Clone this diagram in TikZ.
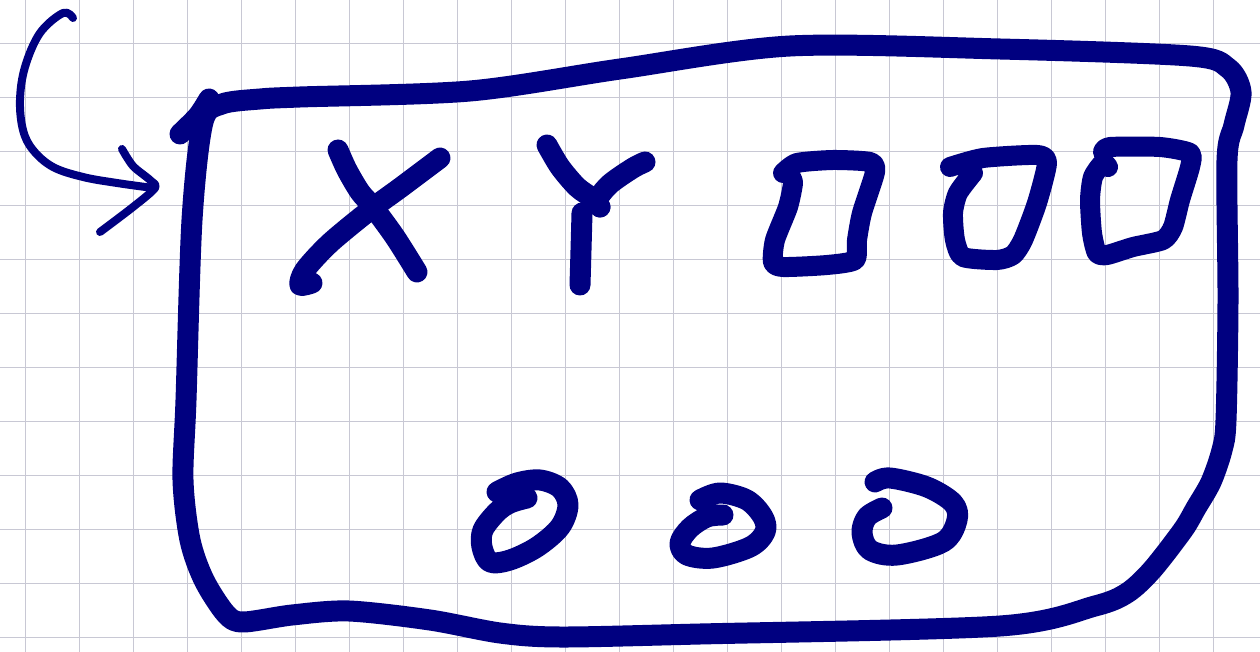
\documentclass[tikz,border=0pt]{standalone}
\definecolor{ink}{RGB}{0,0,128}
\definecolor{gridc}{RGB}{200,200,212}
\begin{document}
\begin{tikzpicture}[x=1pt,y=-1pt,
  pen/.style={draw=ink,line width=#1,line cap=round,line join=round},
  pen/.default=21pt]
\useasboundingbox (0,0) rectangle (1260,652);
\fill[white] (0,0) rectangle (1260,652);
% grid
\foreach \i in {0,...,23} {\draw[gridc,line width=1.4pt] ({25.5+54*\i},0) -- ({25.5+54*\i},652);}
\foreach \j in {0,...,11} {\draw[gridc,line width=1.4pt] (0,{43.3+54*\j}) -- (1260,{43.3+54*\j});}
% arrow
\draw[pen=8pt] plot[smooth,tension=0.6] coordinates {(73,18) (63,13) (40,33) (25,67) (20,100) (23,130) (33,150) (53,167) (83,177) (117,183) (153,188)};
\draw[pen=8pt] plot[smooth,tension=0.5] coordinates {(122,149) (133,166) (150,180) (155,188) (133,207) (100,232)};
% box
\draw[pen] plot[smooth,tension=0.5] coordinates {(180,134) (198,116) (209,99)};
\draw[pen] plot[smooth cycle,tension=0.5] coordinates {(203,122) (222,104) (260,99) (300,97) (470,91) (620,69) (790,46) (1000,49) (1190,56) (1228,68) (1241,92) (1234,125) (1227,160) (1228,300) (1226,420) (1222,450) (1211,482) (1196,508) (1183,530) (1152,570) (1127,593) (1095,606) (1000,626) (700,634) (560,637) (500,633) (430,620) (349,611) (292,615) (243,622) (226,614) (204,580) (190,540) (183,480) (186,400) (192,220)};
% X
\draw[pen] plot[smooth,tension=0.5] coordinates {(338,150) (347,170) (360,192) (373,207) (395,237) (417,272)};
\draw[pen] plot[smooth,tension=0.5] coordinates {(440,158) (400,188) (370,210) (330,243) (305,270) (300,285) (312,283)};
% Y
\draw[pen] plot[smooth,tension=0.5] coordinates {(547,145) (560,167) (577,187) (592,198) (600,207)};
\draw[pen] plot[smooth,tension=0.5] coordinates {(645,162) (633,168) (610,184) (597,200) (600,207)};
\draw[pen] plot[smooth,tension=0.5] coordinates {(582,213) (581,250) (580,285)};
% squares
\draw[pen=20pt] plot[smooth,tension=0.4] coordinates {(783,173) (797,163) (833,160) (870,162) (875,172) (862,213) (857,240) (855,260) (827,265) (783,267) (773,262) (775,240) (788,207) (793,183) (790,176)};
\draw[pen=20pt] plot[smooth,tension=0.4] coordinates {(950,167) (983,158) (1037,155) (1047,163) (1037,203) (1023,240) (1013,255) (997,260) (963,257) (955,240) (953,213) (958,193) (973,173)};
\draw[pen=20pt] plot[smooth,tension=0.4] coordinates {(1103,152) (1110,147) (1160,147) (1190,153) (1190,167) (1180,200) (1173,227) (1163,240) (1133,247) (1107,255) (1097,253) (1092,233) (1090,200) (1093,177) (1103,163) (1108,167)};
% ovals
\draw[pen=21pt] plot[smooth,tension=0.55] coordinates {(497,492) (517,483) (540,480) (560,488) (568,505) (560,527) (537,547) (510,560) (490,562) (482,547) (483,530) (497,512) (510,503) (527,498)};
\draw[pen=21pt] plot[smooth,tension=0.55] coordinates {(700,500) (720,493) (747,500) (763,517) (765,532) (750,547) (713,558) (687,555) (680,543) (690,528) (707,517) (723,515)};
\draw[pen=21pt] plot[smooth,tension=0.55] coordinates {(875,482) (890,478) (927,487) (953,503) (957,520) (943,542) (897,555) (870,550) (862,533) (867,517) (882,508)};
\end{tikzpicture}
\end{document}
